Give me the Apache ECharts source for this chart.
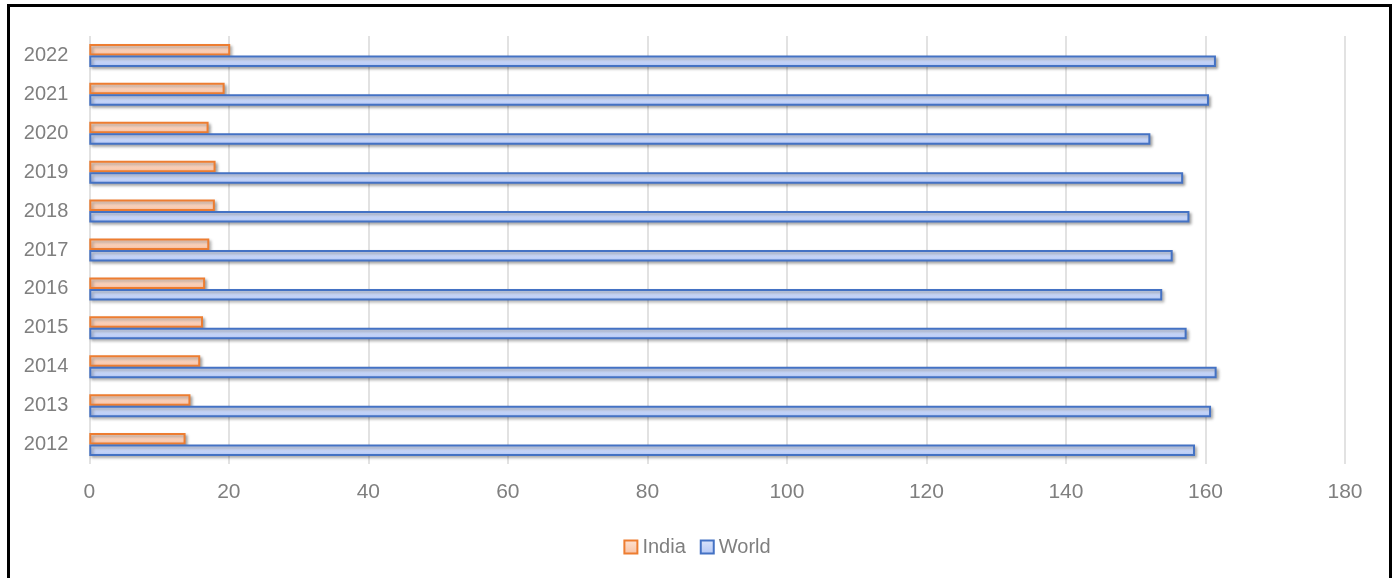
<!DOCTYPE html>
<html><head><meta charset="utf-8">
<script src="https://cdn.jsdelivr.net/npm/echarts@6/dist/echarts.min.js"></script>
<style>html,body{margin:0;padding:0;background:#fff}#c{width:1394px;height:578px}</style>
</head><body><div id="c"></div>
<script>
const categories = ['2012','2013','2014','2015','2016','2017','2018','2019','2020','2021','2022'];
const india = [13.8, 14.5, 15.9, 16.3, 16.6, 17.2, 18.0, 18.1, 17.1, 19.4, 20.2];
const world = [158.5, 160.8, 161.6, 157.3, 153.8, 155.3, 157.7, 156.8, 152.1, 160.5, 161.5];
const xTicks = [0, 20, 40, 60, 80, 100, 120, 140, 160, 180];

const FONT = "'Liberation Sans', Arial, sans-serif";
const chart = echarts.init(document.getElementById('c'), null, {renderer: 'canvas'});
const grad = (a, b) => new echarts.graphic.LinearGradient(0, 0, 0, 1, [{offset: 0, color: a}, {offset: 1, color: b}]);
const shadow = {shadowBlur: 3, shadowOffsetX: 2, shadowOffsetY: 2, shadowColor: 'rgba(0,0,0,0.3)'};
chart.setOption({
  animation: false,
  backgroundColor: '#fff',
  graphic: [{type: 'rect', shape: {x: 8.5, y: 5.5, width: 1382, height: 600}, style: {fill: 'none', stroke: '#000', lineWidth: 3}, z: 100}],
  grid: {left: 89.3, right: 49, top: 36, bottom: 114, containLabel: false},
  legend: {
    data: ['India', 'World'], bottom: 16, left: 'center', itemWidth: 13, itemHeight: 13, itemGap: 14,
    textStyle: {color: '#7f7f7f', fontSize: 20, fontFamily: FONT}, icon: 'rect'
  },
  xAxis: {
    type: 'value', min: xTicks[0], max: xTicks[xTicks.length - 1], interval: 20,
    axisLine: {show: false}, axisTick: {show: false},
    axisLabel: {color: '#7f7f7f', fontSize: 21, fontFamily: FONT, margin: 18},
    splitLine: {lineStyle: {color: '#d9d9d9', width: 1.5}}
  },
  yAxis: {
    type: 'category', data: categories,
    axisLine: {show: false}, axisTick: {show: false},
    axisLabel: {color: '#7f7f7f', fontSize: 20, fontFamily: FONT, margin: 21}
  },
  series: [
    {name: 'India', type: 'bar', data: india, barWidth: 11.5, barGap: '0%',
      itemStyle: Object.assign({color: grad('#fde3d4', '#f8c1a3'), borderColor: '#ed7d31', borderWidth: 2}, shadow)},
    {name: 'World', type: 'bar', data: world, barWidth: 11.5, barGap: '0%',
      itemStyle: Object.assign({color: grad('#dde6fb', '#b3c7f6'), borderColor: '#4472c4', borderWidth: 2}, shadow)}
  ]
});
</script></body></html>
